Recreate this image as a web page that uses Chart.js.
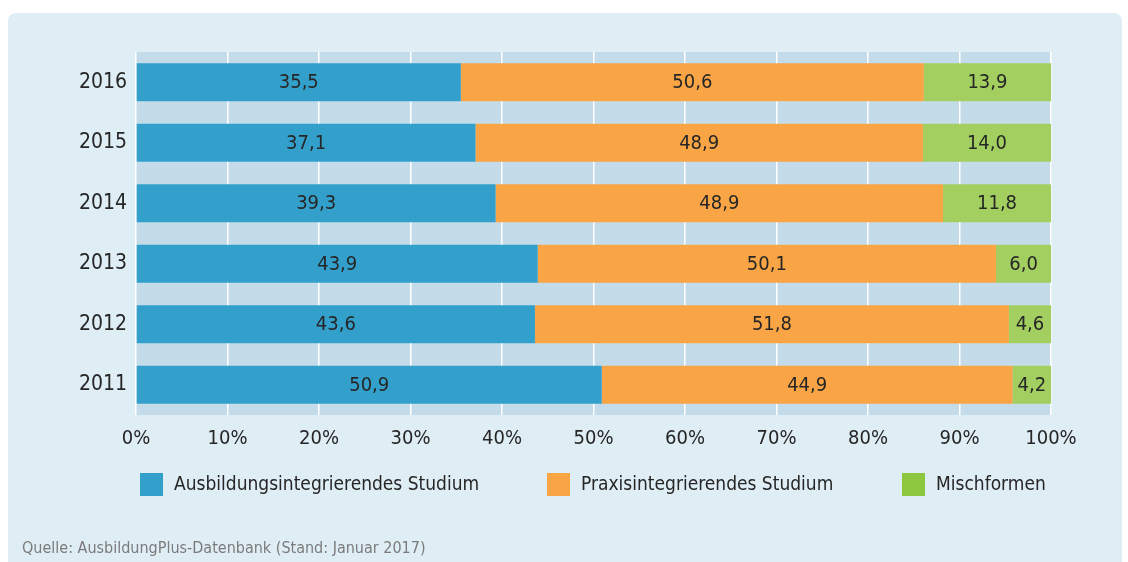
<!DOCTYPE html>
<html>
<head>
<meta charset="utf-8">
<script src="https://cdn.jsdelivr.net/npm/chart.js@4/dist/chart.umd.min.js"></script>
<style>
  html, body { margin: 0; padding: 0; background: #fff; }
  #wrap { position: relative; width: 1128px; height: 562px; overflow: hidden; }
  #panel { position: absolute; left: 8px; top: 13px; width: 1114px; height: 580px; background: #dfedf5; border-radius: 8px; }
  #myChart { position: absolute; left: 0; top: 0; }
  #source { position: absolute; left: 22px; top: 538px; font-family: "Liberation Sans Narrow", "DejaVu Sans Condensed", sans-serif; font-size: 16px; color: #7b7b7b; }
</style>
</head>
<body>
<div id="wrap">
  <div id="panel"></div>
  <canvas id="myChart" width="1128" height="562"></canvas>
  <div id="source">Quelle: AusbildungPlus-Datenbank (Stand: Januar 2017)</div>
</div>
<script>
// data
const years = ['2016', '2015', '2014', '2013', '2012', '2011']
const seriesNames = ['Ausbildungsintegrierendes Studium', 'Praxisintegrierendes Studium', 'Mischformen']
const ausbildung = [35.5, 37.1, 39.3, 43.9, 43.6, 50.9]
const praxis = [50.6, 48.9, 48.9, 50.1, 51.8, 44.9]
const misch = [13.9, 14.0, 11.8, 6.0, 4.6, 4.2]
const xTicks = [0, 10, 20, 30, 40, 50, 60, 70, 80, 90, 100]

const font = '"Liberation Sans Narrow", "DejaVu Sans Condensed", sans-serif'
const barColors = ['#33a0cc', '#f9a546', '#a3cf60']
const legendColors = ['#33a0cc', '#f9a546', '#8dc63f']
const legendX = [140, 547, 902]

// plot background
const plotBg = {
  id: 'plotBg',
  beforeDraw(chart) {
    const {ctx, chartArea: a} = chart
    ctx.save()
    ctx.fillStyle = '#c4dcea'
    ctx.fillRect(a.left, a.top, a.right - a.left, a.bottom - a.top)
    ctx.restore()
  }
}

// numbers inside the bars
const barValues = {
  id: 'barValues',
  afterDatasetsDraw(chart) {
    const ctx = chart.ctx
    ctx.save()
    ctx.font = '20px ' + font
    ctx.fillStyle = '#262626'
    ctx.textAlign = 'center'
    ctx.textBaseline = 'middle'
    chart.data.datasets.forEach((ds, i) => {
      chart.getDatasetMeta(i).data.forEach((bar, j) => {
        const cx = (bar.x + bar.base) / 2
        ctx.fillText(ds.data[j].toFixed(1).replace('.', ','), cx, bar.y + 1)
      })
    })
    ctx.restore()
  }
}

// legend under the axis
const legendBelow = {
  id: 'legendBelow',
  afterDraw(chart) {
    const ctx = chart.ctx
    ctx.save()
    ctx.font = '19px ' + font
    ctx.textBaseline = 'middle'
    chart.data.datasets.forEach((ds, i) => {
      ctx.fillStyle = legendColors[i]
      ctx.fillRect(legendX[i], 473, 23, 23)
      ctx.fillStyle = '#262626'
      ctx.fillText(ds.label, legendX[i] + 34, 485)
    })
    ctx.restore()
  }
}

new Chart('myChart', {
  type: 'bar',
  data: {
    labels: years,
    datasets: [
      {label: seriesNames[0], data: ausbildung, backgroundColor: barColors[0]},
      {label: seriesNames[1], data: praxis, backgroundColor: barColors[1]},
      {label: seriesNames[2], data: misch, backgroundColor: barColors[2]}
    ]
  },
  options: {
    indexAxis: 'y',
    responsive: false,
    animation: false,
    barPercentage: 0.63,
    categoryPercentage: 1,
    layout: {padding: {top: 52, right: 77, bottom: 107, left: 0}},
    plugins: {
      legend: {display: false},
      tooltip: {enabled: false}
    },
    scales: {
      x: {
        stacked: true,
        min: 0,
        max: 100,
        afterBuildTicks: (s) => { s.ticks = xTicks.map(v => ({value: v})) },
        afterFit: (s) => { s.height = 40 },
        grid: {color: '#ffffff', lineWidth: 1.5, drawTicks: false},
        border: {display: false},
        ticks: {
          padding: 12,
          color: '#262626',
          font: {family: font, size: 20},
          callback: (v) => v + '%'
        }
      },
      y: {
        stacked: true,
        afterFit: (s) => { s.width = 136 },
        grid: {display: false, drawTicks: false},
        border: {display: false},
        ticks: {
          padding: 9,
          color: '#262626',
          font: {family: font, size: 21}
        }
      }
    }
  },
  plugins: [plotBg, barValues, legendBelow]
})
</script>
</body>
</html>
